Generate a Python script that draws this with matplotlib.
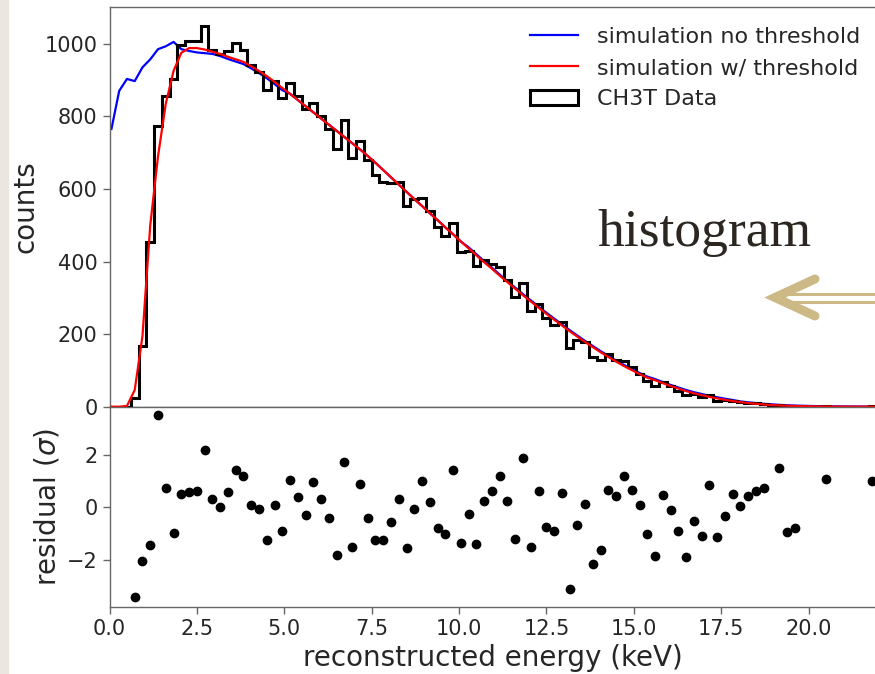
import numpy as np
import matplotlib
matplotlib.use('Agg')
import matplotlib.pyplot as plt
from matplotlib.patches import Rectangle

plt.rcParams['font.family'] = ['DejaVu Sans']
plt.rcParams['axes.unicode_minus'] = True

# binning of the reconstructed energy (keV)
bin_start = -0.056
bin_width = 0.2222
n_bins = 108

# CH3T data counts per bin
data_counts = [0, 0, 0,
               23, 166, 453, 773, 856, 902, 996, 1008, 1008, 1048, 984, 973, 980, 1002, 984, 941,
               923, 873, 898, 851, 893, 856, 819, 838, 802, 765, 709, 790, 685, 733, 680, 639, 620, 617,
               619, 554, 571, 576, 538, 496, 471, 506, 426, 430, 388, 403, 392, 384, 348, 303, 340, 264, 283, 244,
               226, 232, 163, 183, 179, 136, 130, 145, 129, 125, 108, 91, 71, 57, 69, 56, 44, 31, 34, 26,
               31, 17, 18, 17, 13, 11, 10, 8,
               0, 4, 1, 1, 0, 0, 0, 3, 0, 0, 0, 0, 0, 1,
               0, 0, 0, 0, 0, 0, 0, 0, 0]

# simulation without threshold
sim_no_thr = [765, 870, 903, 897, 935, 957, 985, 993, 1005, 985, 980, 976, 974,
              972, 966, 958, 951, 944, 932, 919, 905, 889, 872,
              862, 845, 828, 811, 794, 777, 760, 743, 726, 709, 691, 672, 652, 632, 612, 592, 572, 553, 533, 514,
              494, 475, 455,
              439, 420, 401, 383, 364, 346, 328, 310, 293, 276, 259, 243, 227, 211, 196, 181, 167, 153, 140, 127,
              115, 104, 93, 83, 76, 68, 60, 53, 46, 40, 35, 30, 26, 22, 18.5,
              14.5, 12, 10, 8, 6.5, 5, 4, 3, 2.5, 2, 1.5, 1.2, 0.9, 0.7, 0.5, 0.4, 0.3, 0.2, 0.15, 0.1,
              0.05, 0, 0, 0, 0, 0, 0]

# simulation with threshold
sim_thr = [0, 0, 2,
           46, 195, 500, 690, 835, 925, 975, 988, 988, 984,
           978, 972, 964, 957, 950, 938, 925, 911, 895, 878,
           862, 845, 828, 811, 794, 777, 760, 743, 726, 709, 691, 672, 652, 632,
           612, 592, 572, 553, 533, 514, 494, 475, 455, 436, 417, 398, 380, 361, 343, 325, 307, 290, 273, 256,
           240, 224, 208, 193, 178, 164, 150, 137, 124, 112, 101, 90, 80,
           73, 65, 57, 50, 43, 37, 32, 27, 23, 19, 15.5, 12.5, 10, 8, 6, 4.5, 3.5, 2.6, 2, 1.5,
           1.1, 0.8, 0.6, 0.45, 0.3, 0.2, 0.15, 0.1, 0.07,
           0.05, 0.03, 0.02, 0.01, 0, 0, 0, 0, 0]

nan = np.nan
# residual in sigma per bin (nan = no point)
residual = [nan, nan, nan,
            -3.43, -2.07, -1.43, 3.52, 0.72, -0.97, 0.51, 0.56, 0.63, 2.18,
            0.30, 0.0, 0.58, 1.40, 1.19, 0.09, -0.08, -1.27, 0.09, -0.90,
            1.04, 0.37, -0.32, 0.95, 0.30, -0.42, -1.84, 1.73, -1.52, 0.89,
            -0.43, -1.27, -1.27, -0.58, 0.30, -1.57, -0.06, 0.99, 0.20, -0.80,
            -1.04, 1.41, -1.38, -0.27, -1.42, 0.25, 0.61, 1.19,
            0.25, -1.22, 1.89, -1.52, 0.63, -0.75, -0.90, 0.52, -3.11, -0.69,
            0.10, -2.16, -1.64, 0.67, 0.41, 1.19, 0.67, 0.09, -1.02, -1.85,
            0.46, -0.11, -0.90, -1.90, -0.53, -1.10, 0.83, -1.16, -0.33, 0.51,
            0.04, 0.44, 0.62, 0.72,
            nan, 1.51, -0.95, -0.79, nan, nan, nan, 1.09, nan, nan, nan, nan, nan, 0.99,
            nan, nan, nan, nan, nan, nan, nan, nan, nan]

edges = bin_start + bin_width * np.arange(n_bins + 1)
centers = 0.5 * (edges[:-1] + edges[1:])

W, H = 875, 674
fig = plt.figure(figsize=(W / 100, H / 100), dpi=100)
fig.patch.set_facecolor('white')
fig.patches.append(Rectangle((0, 0), 8 / W, 1, transform=fig.transFigure,
                             color='#ebe7df', zorder=0))

# axes run past the right edge of the slide crop
x0 = 109.5
px_per_kev = 34.95
xmax = 21.95
ax_w = xmax * px_per_kev / W
ax1 = fig.add_axes([x0 / W, (H - 406.7) / H, ax_w, 400 / H])
ax2 = fig.add_axes([x0 / W, (H - 606.7) / H, ax_w, 200 / H], sharex=ax1)

tick_col = '#262626'
for ax in (ax1, ax2):
    for sp in ax.spines.values():
        sp.set_color('#666666')
        sp.set_linewidth(1.0)
    ax.spines['right'].set_visible(False)
    ax.tick_params(labelsize=15, colors=tick_col, color='#666666', length=5, width=1)

l_no, = ax1.plot(centers, sim_no_thr, color='blue', lw=1.6, label='simulation no threshold')
l_thr, = ax1.plot(centers, sim_thr, color='red', lw=1.6, label='simulation w/ threshold', zorder=4)
_, _, hpatch = ax1.hist(centers, bins=edges, weights=data_counts, histtype='step',
                        color='black', lw=2.2, label='CH3T Data', zorder=3)
ax1.set_xlim(0, xmax)
ax1.set_ylim(0, 1102)
ax1.set_yticks([0, 200, 400, 600, 800, 1000])
ax1.tick_params(axis='x', bottom=False, labelbottom=False)
ax1.set_ylabel('counts', fontsize=20, color=tick_col)

ax1.legend(handles=[l_no, l_thr, hpatch[0]], frameon=False, fontsize=16,
           loc='upper left', bbox_to_anchor=(521 / W, (H - 18) / H),
           bbox_transform=fig.transFigure, borderaxespad=0,
           handlelength=2.16, handletextpad=0.86, labelspacing=0.5,
           labelcolor=tick_col)

ax2.plot(centers, residual, 'o', color='black', ms=6, clip_on=False)
ax2.set_ylim(-3.8, 3.83)
ax2.set_yticks([-2, 0, 2])
ax2.set_xticks([0, 2.5, 5, 7.5, 10, 12.5, 15, 17.5, 20])
ax2.set_xticklabels(['0.0', '2.5', '5.0', '7.5', '10.0', '12.5', '15.0', '17.5', '20.0'])
ax2.set_xlabel('reconstructed energy (keV)', fontsize=20, color=tick_col)
ax2.set_ylabel(r'residual ($\sigma$)', fontsize=20, color=tick_col)

# slide annotation overlay
ov = fig.add_axes([0, 0, 1, 1], facecolor='none')
ov.set_xlim(0, W)
ov.set_ylim(H, 0)
ov.axis('off')
ov.text(597, 246, 'histogram', fontsize=38.5, family='Liberation Serif',
        va='baseline', ha='left', color='#2b2720')
tan = '#ccb985'
ov.plot([815, 775, 815], [279, 297.5, 316], color=tan, lw=6.5,
        solid_capstyle='round', solid_joinstyle='miter')
ov.plot([790, W + 5], [293.5, 293.5], color=tan, lw=2.2)
ov.plot([790, W + 5], [301.5, 301.5], color=tan, lw=2.2)

fig.savefig('out.png', dpi=100)
